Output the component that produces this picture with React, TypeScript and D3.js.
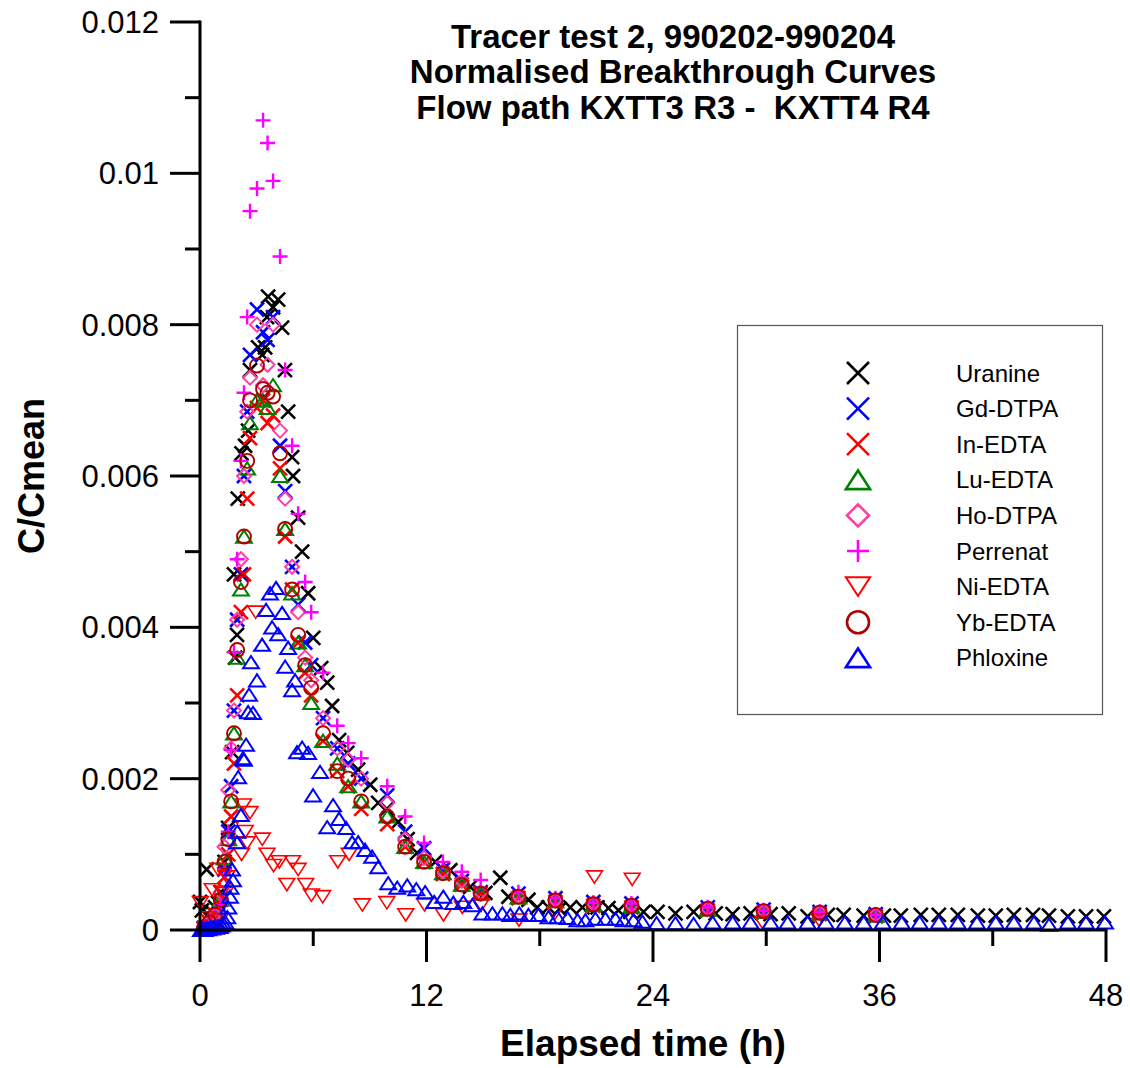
import React from 'react';
import * as d3 from 'd3';

// ---------- data ----------
const TITLE_LINES = ['Tracer test 2, 990202-990204', 'Normalised Breakthrough Curves', 'Flow path KXTT3 R3 -  KXTT4 R4'];
const X_LABEL = 'Elapsed time (h)';
const Y_LABEL = 'C/Cmean';
const X_TICKS = [0, 12, 24, 36, 48];
const X_MINOR = [6, 18, 30, 42];
const Y_TICKS = [0, 0.002, 0.004, 0.006, 0.008, 0.01, 0.012];
const Y_TICK_LABELS = ['0', '0.002', '0.004', '0.006', '0.008', '0.01', '0.012'];
const Y_MINOR = [0.001, 0.003, 0.005, 0.007, 0.009, 0.011];

// common sampling times for the chelate tracers (h)
const T_COMMON = [0.2, 0.5, 0.8, 1.1, 1.3, 1.5, 1.65, 1.8, 1.97, 2.17, 2.33, 2.5, 2.65, 3.02, 3.34, 3.58, 3.87, 4.24, 4.51, 4.88, 5.2, 5.57, 5.89, 6.52, 7.27, 7.85, 8.54, 9.92, 10.87, 11.87, 12.87, 13.87, 14.87, 16.87, 18.83, 20.84, 22.86, 26.9, 29.86, 32.83, 35.8];

const GD_DTPA = [0.00002, 0.00005, 0.0001, 0.0003, 0.0008, 0.0013, 0.0019, 0.0029, 0.0041, 0.0047, 0.006, 0.00685, 0.0076, 0.0082, 0.0079, 0.0078, 0.0081, 0.0064, 0.0058, 0.0048, 0.0043, 0.0038, 0.0035, 0.0028, 0.0024, 0.0022, 0.002, 0.00178, 0.0013, 0.00108, 0.0008, 0.00065, 0.0005, 0.00048, 0.00042, 0.00037, 0.00035, 0.0003, 0.00027, 0.00024, 0.00021];
const IN_EDTA = [0.00003, 0.0001, 0.0002, 0.0004, 0.0007, 0.001, 0.0015, 0.0022, 0.0031, 0.0042, 0.0047, 0.0057, 0.0065, 0.0069, 0.007, 0.0067, 0.0068, 0.0061, 0.0052, 0.0045, 0.0038, 0.0034, 0.0031, 0.0025, 0.0021, 0.0019, 0.0016, 0.0014, 0.0011, 0.0009, 0.00074, 0.0006, 0.00048, 0.00042, 0.00037, 0.00032, 0.0003, 0.00026, 0.00023, 0.00021, 0.00018];
const LU_EDTA = [0.00002, 0.00008, 0.0002, 0.0004, 0.00095, 0.0012, 0.0017, 0.0026, 0.0036, 0.0045, 0.0052, 0.0061, 0.0067, 0.007, 0.007, 0.0069, 0.0072, 0.006, 0.0053, 0.00445, 0.0038, 0.0035, 0.003, 0.0025, 0.0022, 0.0019, 0.0017, 0.0015, 0.0011, 0.0009, 0.00075, 0.0006, 0.00048, 0.00043, 0.00038, 0.00033, 0.00031, 0.00027, 0.00024, 0.00022, 0.00019];
const HO_DTPA = [0.00002, 0.0001, 0.0002, 0.0005, 0.0011, 0.00185, 0.0024, 0.0029, 0.0041, 0.0049, 0.006, 0.00685, 0.0073, 0.008, 0.0072, 0.00747, 0.008, 0.0066, 0.0057, 0.0048, 0.0042, 0.0036, 0.0033, 0.0028, 0.0024, 0.00225, 0.002, 0.00168, 0.0012, 0.00095, 0.00078, 0.00065, 0.0005, 0.00045, 0.0004, 0.00035, 0.00033, 0.00028, 0.00025, 0.00023, 0.0002];
const PERRENAT = [0.00003, 0.0001, 0.0002, 0.00033, 0.0008, 0.0013, 0.00238, 0.00367, 0.0049, 0.0062, 0.0071, 0.0081, 0.0095, 0.0098, 0.0107, 0.0104, 0.0099, 0.0089, 0.0074, 0.0064, 0.0055, 0.0046, 0.0042, 0.0034, 0.0027, 0.00247, 0.00227, 0.0019, 0.0015, 0.00115, 0.0009, 0.00077, 0.00066, 0.0005, 0.00042, 0.00036, 0.00035, 0.0003, 0.00026, 0.00024, 0.0002];
const YB_EDTA = [0.00002, 0.0001, 0.0002, 0.0004, 0.0009, 0.0012, 0.0017, 0.0026, 0.0037, 0.0046, 0.0052, 0.0062, 0.007, 0.00746, 0.00715, 0.0071, 0.00705, 0.0063, 0.0053, 0.0045, 0.0039, 0.0035, 0.0032, 0.0026, 0.0021, 0.002, 0.0017, 0.0015, 0.0011, 0.0009, 0.00075, 0.0006, 0.00048, 0.00044, 0.00039, 0.00034, 0.00032, 0.00028, 0.00025, 0.00023, 0.0002];

const URANINE_T = [0.0, 0.1, 0.35, 0.45, 0.64, 0.8, 0.95, 1.1, 1.3, 1.49, 1.7, 1.8, 1.86, 1.96, 2.0, 2.2, 2.39, 2.55, 2.65, 3.08, 3.3, 3.45, 3.55, 3.61, 3.87, 4.14, 4.35, 4.5, 4.67, 4.88, 4.93, 5.2, 5.41, 5.73, 6.0, 6.42, 6.74, 7.0, 7.37, 7.8, 8.38, 9.02, 9.44, 9.9, 10.5, 11.0, 11.5, 12.46, 13.26, 14.32, 15.12, 15.91, 16.34, 17.4, 17.87, 18.46, 19.05, 19.62, 20.26, 21.06, 21.64, 22.17, 22.8, 23.5, 24.24, 25.19, 26.15, 27.32, 28.22, 29.17, 30.23, 31.19, 32.19, 33.26, 34.1, 35.16, 36.23, 37.13, 38.19, 39.14, 40.15, 41.21, 42.16, 43.12, 44.13, 44.98, 45.98, 46.94, 47.89];
const URANINE_V = [0.00037, 0.00026, 0.0008, 0.0002, 0.00024, 0.0003, 0.00036, 0.0005, 0.0009, 0.00135, 0.00235, 0.0047, 0.0036, 0.0039, 0.0057, 0.0063, 0.0064, 0.0066, 0.0074, 0.0077, 0.0076, 0.0077, 0.0081, 0.00837, 0.00823, 0.00833, 0.00796, 0.0074, 0.00685, 0.00625, 0.006, 0.00545, 0.005, 0.00445, 0.00386, 0.00346, 0.00327, 0.00296, 0.00251, 0.00234, 0.00212, 0.00192, 0.00168, 0.0016, 0.00143, 0.0012, 0.00102, 0.0009, 0.00079, 0.00057, 0.00049, 0.00069, 0.00044, 0.0004, 0.0003, 0.0003, 0.00028, 0.0003, 0.0003, 0.0003, 0.00029, 0.00026, 0.00024, 0.00024, 0.00024, 0.00022, 0.00024, 0.00022, 0.00021, 0.00022, 0.00021, 0.00022, 0.00018, 0.0002, 0.0002, 0.00019, 0.00019, 0.00019, 0.0002, 0.0002, 0.0002, 0.00019, 0.00019, 0.0002, 0.0002, 0.00019, 0.00018, 0.00018, 0.00018];

const NI_T = [0.02, 0.42, 0.65, 0.95, 1.06, 1.17, 1.33, 1.43, 2.2, 2.3, 2.4, 2.5, 2.65, 2.95, 3.3, 3.55, 3.9, 4.2, 4.6, 4.9, 5.2, 5.6, 5.9, 6.5, 7.3, 7.9, 8.6, 9.9, 10.9, 11.9, 12.9, 13.9, 14.9, 16.9, 18.8, 20.9, 22.9, 29.8, 32.8];
const NI_V = [0.00036, 0.00016, 0.00053, 0.0008, 0.00013, 0.0005, 0.00048, 0.0007, 0.001, 0.00165, 0.0013, 0.00115, 0.00155, 0.0042, 0.0012, 0.001, 0.00085, 0.0009, 0.0006, 0.0009, 0.0008, 0.0006, 0.00046, 0.00044, 0.0009, 0.001, 0.00033, 0.00036, 0.0002, 0.00033, 0.0002, 0.0003, 0.00033, 0.00013, 0.00022, 0.0007, 0.00067, 0.0001, 0.00013];

const PHLOX_T = [0.05, 0.15, 0.25, 0.35, 0.45, 0.55, 0.65, 0.75, 0.85, 0.95, 1.05, 1.15, 1.25, 1.35, 1.45, 1.5, 1.59, 1.62, 1.7, 1.75, 1.96, 1.98, 2.02, 2.17, 2.28, 2.33, 2.44, 2.55, 2.6, 2.7, 2.81, 3.02, 3.29, 3.5, 3.71, 3.82, 4.03, 4.14, 4.35, 4.51, 4.67, 4.88, 5.04, 5.14, 5.41, 5.73, 5.99, 6.36, 6.74, 7.05, 7.37, 7.74, 8.06, 8.38, 8.75, 9.12, 9.44, 9.97, 10.45, 10.98, 11.46, 11.93, 12.41, 12.89, 13.42, 13.95, 14.43, 14.96, 15.49, 16.02, 16.44, 16.92, 17.4, 17.93, 18.46, 18.93, 19.47, 20.0, 20.42, 20.95, 21.48, 22.01, 22.44, 22.97, 23.44, 24.19, 25.19, 26.15, 27.16, 28.22, 29.17, 30.23, 31.13, 32.19, 33.15, 34.16, 35.16, 36.17, 37.18, 38.13, 39.14, 40.15, 41.16, 42.16, 43.12, 44.18, 44.98, 45.98, 46.94, 47.95];
const PHLOX_V = [0, 0.00001, 0, 0.00002, 0.00001, 0.00003, 0.00002, 0.00004, 0.00003, 0.00005, 0.00004, 0.00006, 0.00008, 0.0001, 0.00017, 0.0003, 0.00044, 0.00056, 0.0008, 0.00066, 0.00116, 0.0013, 0.00202, 0.00152, 0.00227, 0.00225, 0.00245, 0.00288, 0.00311, 0.00354, 0.00287, 0.0033, 0.00377, 0.00423, 0.00445, 0.004, 0.00452, 0.00391, 0.00419, 0.00348, 0.00373, 0.00317, 0.0033, 0.00235, 0.00241, 0.00234, 0.00178, 0.00209, 0.00136, 0.00165, 0.00147, 0.00135, 0.00116, 0.00116, 0.00106, 0.00097, 0.00083, 0.00062, 0.00056, 0.00059, 0.00054, 0.0005, 0.00037, 0.00044, 0.00036, 0.00037, 0.00033, 0.00022, 0.00022, 0.00022, 0.0002, 0.00022, 0.0002, 0.0002, 0.00017, 0.00017, 0.00016, 0.00013, 0.00013, 0.00015, 0.00015, 0.00015, 0.00013, 0.00013, 0.00011, 0.00009, 0.00009, 0.00008, 0.0001, 0.0001, 0.0001, 0.0001, 0.0001, 0.0001, 0.0001, 0.0001, 0.0001, 0.0001, 0.0001, 0.0001, 0.0001, 0.0001, 0.0001, 0.0001, 0.0001, 0.0001, 0.00007, 0.0001, 0.0001, 0.0001];

type Shape = 'cross' | 'plus' | 'triUp' | 'triDown' | 'diamond' | 'circle';

const SERIES: { name: string; t: number[]; v: number[]; shape: Shape; color: string; sw: number }[] = [
  { name: 'Uranine', t: URANINE_T, v: URANINE_V, shape: 'cross', color: '#000000', sw: 2.6 },
  { name: 'Gd-DTPA', t: T_COMMON, v: GD_DTPA, shape: 'cross', color: '#0000ff', sw: 2.6 },
  { name: 'In-EDTA', t: T_COMMON, v: IN_EDTA, shape: 'cross', color: '#ff0000', sw: 2.6 },
  { name: 'Lu-EDTA', t: T_COMMON, v: LU_EDTA, shape: 'triUp', color: '#008000', sw: 2 },
  { name: 'Ho-DTPA', t: T_COMMON, v: HO_DTPA, shape: 'diamond', color: '#ff3fa6', sw: 2 },
  { name: 'Perrenat', t: T_COMMON, v: PERRENAT, shape: 'plus', color: '#ff00ff', sw: 2.4 },
  { name: 'Ni-EDTA', t: NI_T, v: NI_V, shape: 'triDown', color: '#ff0000', sw: 1.6 },
  { name: 'Yb-EDTA', t: T_COMMON, v: YB_EDTA, shape: 'circle', color: '#b00000', sw: 1.9 },
  { name: 'Phloxine', t: PHLOX_T, v: PHLOX_V, shape: 'triUp', color: '#0000ff', sw: 2 },
];

// ---------- layout ----------
const W = 1130;
const H = 1068;
const FONT = '"Liberation Sans", Arial, Helvetica, sans-serif';
const x = d3.scaleLinear().domain([0, 48]).range([200, 1106]);
const y = d3.scaleLinear().domain([0, 0.012]).range([930, 22]);

function shapePath(shape: Shape, s: number): string {
  switch (shape) {
    case 'cross':
      return `M${-s},${-s}L${s},${s}M${-s},${s}L${s},${-s}`;
    case 'plus':
      return `M${-s},0L${s},0M0,${-s}L0,${s}`;
    case 'triUp':
      return `M0,${-s * 0.85}L${s * 1.1},${s * 0.85}L${-s * 1.1},${s * 0.85}Z`;
    case 'triDown':
      return `M0,${s * 0.85}L${s * 1.1},${-s * 0.85}L${-s * 1.1},${-s * 0.85}Z`;
    case 'diamond':
      return `M0,${-s}L${s},0L0,${s}L${-s},0Z`;
    case 'circle':
      return d3.arc()({ innerRadius: 0, outerRadius: s, startAngle: 0, endAngle: 2 * Math.PI }) as string;
  }
}

function markerSize(shape: Shape): number {
  if (shape === 'cross') return 7;
  if (shape === 'plus') return 7.5;
  if (shape === 'circle') return 7;
  if (shape === 'diamond') return 7;
  return 7.2;
}

export default function App() {
  const legendX = 858;
  const legendTextX = 956;
  const legendY0 = 373;
  const legendDy = 35.6;
  return (
    <svg width={W} height={H} style={{ position: 'absolute', left: 0, top: 0, background: '#fff' }} fontFamily={FONT}>
      <rect x={0} y={0} width={W} height={H} fill="#fff" />
      {/* title */}
      {TITLE_LINES.map((l, i) => (
        <text key={i} x={673} y={48 + i * 35.3} textAnchor="middle" fontWeight="bold" fontSize={33} fill="#000" style={{ whiteSpace: 'pre' }}>
          {l}
        </text>
      ))}

      {/* markers */}
      {SERIES.map((s) => {
        const sz = markerSize(s.shape);
        const d = shapePath(s.shape, sz);
        return (
          <g key={s.name} fill="none" stroke={s.color} strokeWidth={s.sw}>
            {s.t.map((t, i) => (
              <path key={i} d={d} transform={`translate(${x(t)},${y(s.v[i])})`} />
            ))}
          </g>
        );
      })}

      {/* axes */}
      <g stroke="#000" strokeWidth={3} fill="none">
        <line x1={x(0)} x2={x(0)} y1={y(0.012) - 1.5} y2={y(0) + 1.5} />
        <line x1={x(0) - 1.5} x2={x(48) + 1.5} y1={y(0)} y2={y(0)} />
        {Y_TICKS.map((v) => (
          <line key={'ym' + v} x1={x(0) - 30} x2={x(0)} y1={y(v)} y2={y(v)} />
        ))}
        {Y_MINOR.map((v) => (
          <line key={'yn' + v} x1={x(0) - 15} x2={x(0)} y1={y(v)} y2={y(v)} />
        ))}
        {X_TICKS.map((v) => (
          <line key={'xm' + v} x1={x(v)} x2={x(v)} y1={y(0)} y2={y(0) + 32} />
        ))}
        {X_MINOR.map((v) => (
          <line key={'xn' + v} x1={x(v)} x2={x(v)} y1={y(0)} y2={y(0) + 16} />
        ))}
      </g>
      {Y_TICKS.map((v, i) => (
        <text key={'yl' + v} x={159} y={y(v) + 11} textAnchor="end" fontSize={31} fill="#000">
          {Y_TICK_LABELS[i]}
        </text>
      ))}
      {X_TICKS.map((v) => (
        <text key={'xl' + v} x={x(v)} y={1006} textAnchor="middle" fontSize={31} fill="#000">
          {String(v)}
        </text>
      ))}

      {/* axis titles */}
      <text x={643} y={1056} textAnchor="middle" fontWeight="bold" fontSize={37} fill="#000">
        {X_LABEL}
      </text>
      <text transform={`translate(44,476) rotate(-90)`} textAnchor="middle" fontWeight="bold" fontSize={36} fill="#000">
        {Y_LABEL}
      </text>

      {/* legend */}
      <rect x={737.5} y={325.5} width={365} height={389} fill="#fff" stroke="#555" strokeWidth={1.2} />
      {SERIES.map((s, i) => {
        const cy = legendY0 + i * legendDy;
        return (
          <g key={'lg' + s.name}>
            <path
              d={shapePath(s.shape, 11)}
              transform={`translate(${legendX},${cy})`}
              fill="none"
              stroke={s.color}
              strokeWidth={s.shape === 'triDown' ? 2 : 2.6}
            />
            <text x={legendTextX} y={cy + 8.5} fontSize={24} fill="#000">
              {s.name}
            </text>
          </g>
        );
      })}
    </svg>
  );
}
